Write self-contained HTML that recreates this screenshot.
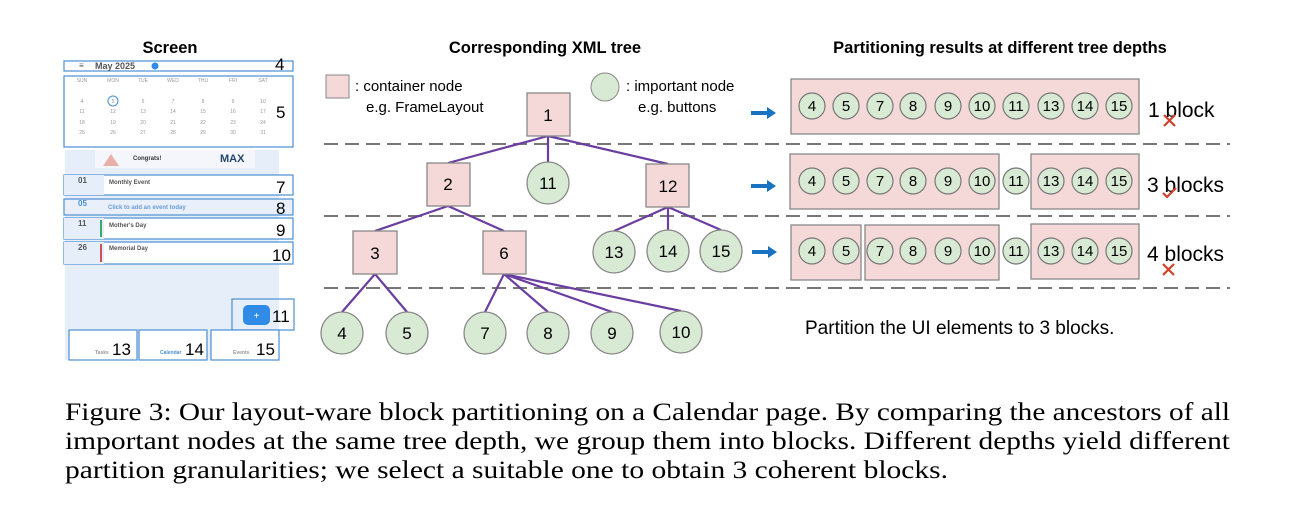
<!DOCTYPE html>
<html><head><meta charset="utf-8"><style>
body{margin:0;background:#fff;}
svg{display:block;font-family:"Liberation Sans",sans-serif;}
</style></head><body>
<svg width="1297" height="525" viewBox="0 0 1297 525" xmlns="http://www.w3.org/2000/svg">
<rect width="1297" height="525" fill="#fff"/>
<g font-weight="bold" font-size="16.5" text-anchor="middle" fill="#000">
<text x="170" y="53">Screen</text>
<text x="545" y="53">Corresponding XML tree</text>
<text x="1000" y="53">Partitioning results at different tree depths</text>
</g>
<rect x="65" y="150" width="214" height="210" fill="#e6eefa"/>
<rect x="95" y="150" width="160" height="18" fill="#f4f6fb"/>
<path d="M103 166 l8 -12 l8 12z" fill="#e8b0a8"/>
<text x="133" y="160" font-size="6" font-weight="bold" fill="#333">Congrats!</text>
<text x="220" y="162" font-size="11" font-weight="bold" fill="#25476e">MAX</text>
<g fill="#fff" stroke="#4a8fd0" stroke-width="1.2">
<rect x="64" y="61" width="229" height="10"/>
<rect x="64" y="76" width="229" height="71"/>
<rect x="64" y="175" width="229" height="20"/>
<rect x="64" y="199" width="229" height="16" fill="#e9f0fb"/>
<rect x="64" y="218" width="229" height="21"/>
<rect x="64" y="242" width="229" height="22"/>
<rect x="232" y="299" width="62" height="31" fill="none"/>
<rect x="69" y="330" width="68" height="30"/>
<rect x="139" y="330" width="68" height="30"/>
<rect x="211" y="330" width="68" height="30"/>
</g>
<rect x="64" y="175" width="40" height="20" fill="#e6eefa"/>
<rect x="64" y="218" width="40" height="21" fill="#e6eefa"/>
<rect x="64" y="242" width="40" height="22" fill="#e6eefa"/>
<rect x="100" y="220" width="2" height="17" fill="#3aa86a"/>
<rect x="100" y="244" width="2" height="18" fill="#c9535a"/>
<rect x="243" y="305" width="27" height="20" rx="5" fill="#2f8be6"/>
<text x="256.5" y="319" font-size="10" fill="#fff" text-anchor="middle">+</text>
<g font-size="8" fill="#555" font-weight="bold">
<text x="79" y="68">≡</text><text x="95" y="69" font-size="9">May 2025</text>
<circle cx="155" cy="66" r="3.5" fill="#2f8be6"/>
<text x="78" y="183">01</text><text x="109" y="184" font-size="6">Monthly Event</text>
<text x="78" y="206" fill="#4a8fd0">05</text><text x="108" y="209" font-size="6" fill="#6a9ad8">Click to add an event today</text>
<text x="78" y="226">11</text><text x="109" y="227" font-size="6">Mother's Day</text>
<text x="78" y="250">26</text><text x="109" y="250" font-size="6">Memorial Day</text>
<text x="95" y="354" font-size="5" fill="#999">Tasks</text>
<text x="160" y="354" font-size="5" fill="#4a8fd0">Calendar</text>
<text x="233" y="354" font-size="5" fill="#999">Events</text>
</g>
<g font-size="5" fill="#999" text-anchor="middle">
<text x="82" y="82">SUN</text><text x="113" y="82">MON</text><text x="143" y="82">TUE</text><text x="173" y="82">WED</text><text x="203" y="82">THU</text><text x="233" y="82">FRI</text><text x="263" y="82">SAT</text>
<text x="82" y="103">4</text><text x="113" y="103">5</text><text x="143" y="103">6</text><text x="173" y="103">7</text><text x="203" y="103">8</text><text x="233" y="103">9</text><text x="263" y="103">10</text>
<text x="82" y="113">11</text><text x="113" y="113">12</text><text x="143" y="113">13</text><text x="173" y="113">14</text><text x="203" y="113">15</text><text x="233" y="113">16</text><text x="263" y="113">17</text>
<text x="82" y="124">18</text><text x="113" y="124">19</text><text x="143" y="124">20</text><text x="173" y="124">21</text><text x="203" y="124">22</text><text x="233" y="124">23</text><text x="263" y="124">24</text>
<text x="82" y="134">25</text><text x="113" y="134">26</text><text x="143" y="134">27</text><text x="173" y="134">28</text><text x="203" y="134">29</text><text x="233" y="134">30</text><text x="263" y="134">31</text>
</g>
<circle cx="113" cy="101" r="5" fill="none" stroke="#4a8fd0"/>
<g font-size="17" fill="#000">
<text x="275" y="70">4</text><text x="276" y="118">5</text><text x="276" y="193">7</text><text x="276" y="214">8</text><text x="276" y="236">9</text><text x="272" y="261">10</text><text x="272" y="322">11</text>
<text x="112" y="355">13</text><text x="185" y="355">14</text><text x="256" y="355">15</text>
</g>
<g stroke="#777" stroke-width="2" stroke-dasharray="14,7">
<line x1="324" y1="144" x2="1230" y2="144"/>
<line x1="324" y1="216" x2="1230" y2="216"/>
<line x1="324" y1="288" x2="1230" y2="288"/>
</g>
<rect x="326" y="75" width="23" height="23" fill="#f5d9d9" stroke="#888"/>
<g font-size="15" fill="#000">
<text x="355" y="91">: container node</text>
<text x="366" y="112">e.g. FrameLayout</text>
<text x="626" y="91">: important node</text>
<text x="638" y="112">e.g. buttons</text>
</g>
<circle cx="605" cy="87" r="14" fill="#d8ead4" stroke="#888"/>
<g stroke="#6a3ea0" stroke-width="2.2">
<line x1="548" y1="136" x2="448" y2="163"/><line x1="548" y1="136" x2="548" y2="162"/><line x1="548" y1="136" x2="668" y2="164"/>
<line x1="448" y1="206" x2="375" y2="231"/><line x1="448" y1="206" x2="504" y2="231"/>
<line x1="668" y1="207" x2="614" y2="231"/><line x1="668" y1="207" x2="668" y2="230"/><line x1="668" y1="207" x2="721" y2="230"/>
<line x1="375" y1="274" x2="342" y2="312"/><line x1="375" y1="274" x2="407" y2="312"/>
<line x1="504" y1="274" x2="485" y2="312"/><line x1="504" y1="274" x2="548" y2="312"/><line x1="504" y1="274" x2="612" y2="312"/><line x1="504" y1="274" x2="681" y2="311"/>
</g>
<g fill="#f5d9d9" stroke="#888" stroke-width="1.3">
<rect x="527" y="93" width="43" height="43"/>
<rect x="427" y="163" width="43" height="43"/>
<rect x="646" y="164" width="43" height="43"/>
<rect x="353" y="231" width="44" height="43"/>
<rect x="483" y="231" width="43" height="43"/>
</g>
<g fill="#d8ead4" stroke="#888" stroke-width="1.3">
<circle cx="548" cy="183" r="21"/>
<circle cx="614" cy="252" r="21"/><circle cx="668" cy="251" r="21"/><circle cx="721" cy="251" r="21"/>
<circle cx="342" cy="333" r="21"/><circle cx="407" cy="333" r="21"/><circle cx="485" cy="333" r="21"/><circle cx="548" cy="333" r="21"/><circle cx="612" cy="333" r="21"/><circle cx="681" cy="332" r="21"/>
</g>
<g font-size="17" text-anchor="middle" fill="#000">
<text x="548" y="121">1</text><text x="448" y="190">2</text><text x="548" y="189">11</text><text x="668" y="192">12</text>
<text x="375" y="259">3</text><text x="504" y="259">6</text>
<text x="614" y="258">13</text><text x="668" y="257">14</text><text x="721" y="257">15</text>
<text x="342" y="339">4</text><text x="407" y="339">5</text><text x="485" y="339">7</text><text x="548" y="339">8</text><text x="612" y="339">9</text><text x="681" y="338">10</text>
</g>
<g fill="#1a73c0">
<path d="M751 111 h16 v-4 l9 6 l-9 6 v-4 h-16z"/>
<path d="M751 184 h16 v-4 l9 6 l-9 6 v-4 h-16z"/>
<path d="M752 250 h16 v-4 l9 6 l-9 6 v-4 h-16z"/>
</g>
<g fill="#f5d9d9" stroke="#888" stroke-width="1.3">
<rect x="791" y="79" width="348" height="55"/>
<rect x="790" y="154" width="209" height="55"/><rect x="1031" y="154" width="108" height="55"/>
<rect x="791" y="225" width="70" height="55"/><rect x="865" y="225" width="134" height="55"/><rect x="1031" y="224" width="108" height="55"/>
</g>
<g fill="#d8ead4" stroke="#777" stroke-width="1.2">
<circle cx="812" cy="106" r="13"/><circle cx="846" cy="106" r="13"/><circle cx="880" cy="106" r="13"/><circle cx="913" cy="106" r="13"/><circle cx="948" cy="106" r="13"/><circle cx="982" cy="106" r="13"/><circle cx="1016" cy="106" r="13"/><circle cx="1051" cy="106" r="13"/><circle cx="1085" cy="106" r="13"/><circle cx="1119" cy="106" r="13"/>
<circle cx="812" cy="181" r="13"/><circle cx="846" cy="181" r="13"/><circle cx="880" cy="181" r="13"/><circle cx="913" cy="181" r="13"/><circle cx="948" cy="181" r="13"/><circle cx="982" cy="181" r="13"/><circle cx="1016" cy="181" r="13"/><circle cx="1051" cy="181" r="13"/><circle cx="1085" cy="181" r="13"/><circle cx="1119" cy="181" r="13"/>
<circle cx="812" cy="251" r="13"/><circle cx="846" cy="251" r="13"/><circle cx="880" cy="251" r="13"/><circle cx="913" cy="251" r="13"/><circle cx="948" cy="251" r="13"/><circle cx="982" cy="251" r="13"/><circle cx="1016" cy="251" r="13"/><circle cx="1051" cy="251" r="13"/><circle cx="1085" cy="251" r="13"/><circle cx="1119" cy="251" r="13"/>
</g>
<g font-size="15" text-anchor="middle" fill="#000">
<text x="812" y="111">4</text><text x="846" y="111">5</text><text x="880" y="111">7</text><text x="913" y="111">8</text><text x="948" y="111">9</text><text x="982" y="111">10</text><text x="1016" y="111">11</text><text x="1051" y="111">13</text><text x="1085" y="111">14</text><text x="1119" y="111">15</text>
<text x="812" y="186">4</text><text x="846" y="186">5</text><text x="880" y="186">7</text><text x="913" y="186">8</text><text x="948" y="186">9</text><text x="982" y="186">10</text><text x="1016" y="186">11</text><text x="1051" y="186">13</text><text x="1085" y="186">14</text><text x="1119" y="186">15</text>
<text x="812" y="256">4</text><text x="846" y="256">5</text><text x="880" y="256">7</text><text x="913" y="256">8</text><text x="948" y="256">9</text><text x="982" y="256">10</text><text x="1016" y="256">11</text><text x="1051" y="256">13</text><text x="1085" y="256">14</text><text x="1119" y="256">15</text>
</g>
<g font-size="21" fill="#000">
<text x="1148" y="117">1 block</text>
<text x="1147" y="192">3 blocks</text>
<text x="1147" y="261">4 blocks</text>
</g>
<g stroke="#d0402a" stroke-width="2.2" fill="none">
<path d="M1164 115 l11 11 M1175 115 l-11 11"/>
<path d="M1163 264 l11 11 M1174 264 l-11 11"/>
<path d="M1163 193 l4 4 l9 -9"/>
</g>
<text x="805" y="334" font-size="19" fill="#000">Partition the UI elements to 3 blocks.</text>
<g font-family="'Liberation Serif',serif" font-size="25.5" fill="#000">
<text x="65" y="420" textLength="1165" lengthAdjust="spacingAndGlyphs">Figure 3: Our layout-ware block partitioning on a Calendar page. By comparing the ancestors of all</text>
<text x="65" y="449" textLength="1165" lengthAdjust="spacingAndGlyphs">important nodes at the same tree depth, we group them into blocks. Different depths yield different</text>
<text x="65" y="478" textLength="883" lengthAdjust="spacingAndGlyphs">partition granularities; we select a suitable one to obtain 3 coherent blocks.</text>
</g>
</svg>
</body></html>
